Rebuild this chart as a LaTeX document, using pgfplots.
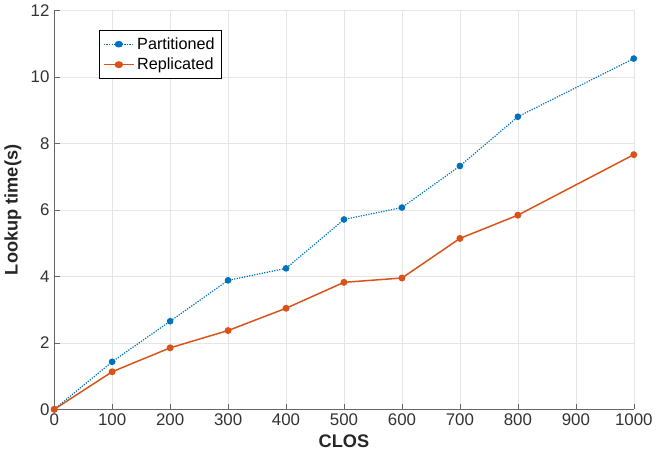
\documentclass[border=0pt]{standalone}
\usepackage{fontspec}
\setmainfont{Liberation Sans}
\usepackage{pgfplots}
\pgfplotsset{compat=1.18}
\definecolor{mblue}{rgb}{0,0.447,0.741}
\definecolor{morange}{rgb}{0.85,0.325,0.098}

\begin{document}
\begin{tikzpicture}
\begin{axis}[
  scale only axis,
  width=430pt,height=296pt,
  xmin=0,xmax=1000,ymin=0,ymax=12,
  xtick={0,100,...,1000},ytick={0,2,...,12},
  axis lines*=left,
  axis line style={gray!80!black,line width=0.5pt},
  tick style={gray!80!black},
  tick align=inside,
  grid=major,grid style={gray!20,line width=0.4pt},
  tick label style={font=\fontsize{12.5}{14}\selectfont,text=black!80},
  /pgf/number format/assume math mode=true,
  /pgf/number format/1000 sep={},
  xlabel={\textbf{CLOS}},ylabel={\textbf{Lookup time(s)}},
  label style={font=\fontsize{13.5}{15}\selectfont,text=black!85},
  legend style={at={(0.077,0.95)},anchor=north west,draw=black,
    font=\fontsize{12}{14}\selectfont,inner sep=3pt,row sep=1pt},
  legend image post style={xscale=1.3},
  legend cell align=left,
]
\addplot[color=mblue,densely dotted,line width=0.9pt,mark=*,mark size=2pt,mark options={solid}] coordinates {
  (0,0) (100,1.43) (200,2.65) (300,3.88) (400,4.24) (500,5.71)
  (600,6.07) (700,7.32) (800,8.80) (1000,10.55)
};
\addlegendentry{Partitioned}
\addplot[color=morange,line width=1.1pt,mark=*,mark size=2pt] coordinates {
  (0,0) (100,1.13) (200,1.85) (300,2.37) (400,3.04) (500,3.82)
  (600,3.95) (700,5.14) (800,5.84) (1000,7.66)
};
\addlegendentry{Replicated}
\end{axis}
\end{tikzpicture}
\end{document}
